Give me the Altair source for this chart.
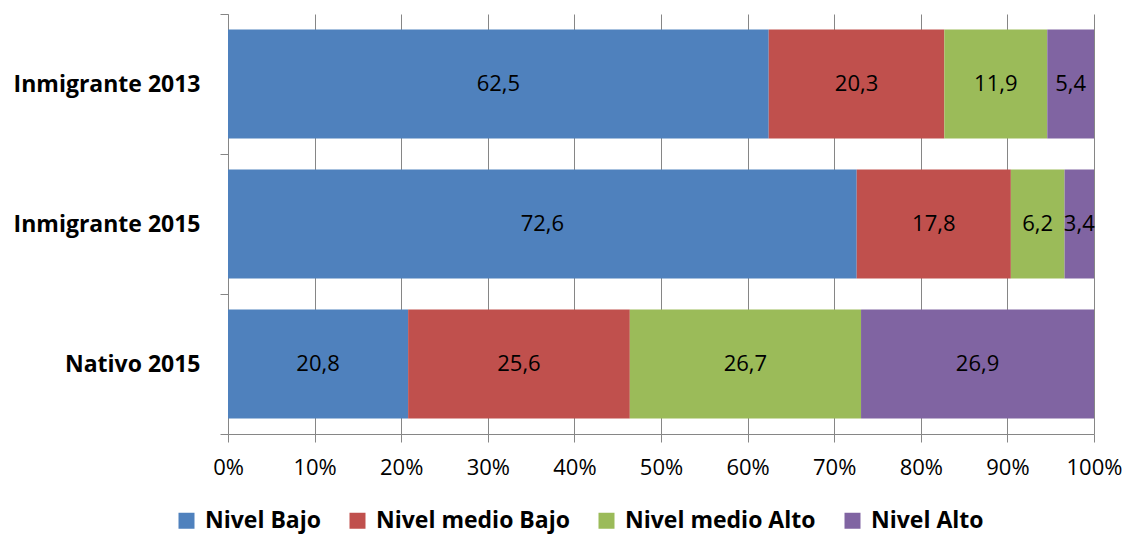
import altair as alt
import pandas as pd

# Distribution by level for each group (percent of each group)
grupos = ["Inmigrante 2013", "Inmigrante 2015", "Nativo 2015"]
niveles = ["Nivel Bajo", "Nivel medio Bajo", "Nivel medio Alto", "Nivel Alto"]
nivel_bajo = [62.5, 72.6, 20.8]
nivel_medio_bajo = [20.3, 17.8, 25.6]
nivel_medio_alto = [11.9, 6.2, 26.7]
nivel_alto = [5.4, 3.4, 26.9]
colores = ["#4F81BD", "#C0504D", "#9BBB59", "#8064A2"]
x_ticks = [i / 10 for i in range(11)]

series = [nivel_bajo, nivel_medio_bajo, nivel_medio_alto, nivel_alto]
rows = []
for j, (nivel, vals) in enumerate(zip(niveles, series)):
    for grupo, v in zip(grupos, vals):
        rows.append({"grupo": grupo, "nivel": nivel, "orden": j, "valor": v})
df = pd.DataFrame(rows)

FONT = "Open Sans"
AXIS_GRAY = "#868686"

base = (
    alt.Chart(df)
    .transform_stack(
        stack="valor",
        groupby=["grupo"],
        sort=[alt.SortField("orden", order="ascending")],
        as_=["x0", "x1"],
        offset="normalize",
    )
    .transform_calculate(
        mid="(datum.x0 + datum.x1) / 2",
        etiqueta="replace(format(datum.valor, '.1f'), '.', ',')",
    )
)

# Bands fill the whole axis so the ticks fall on the category boundaries;
# each bar takes 78% of its band.
y_enc = alt.Y(
    "grupo:N",
    sort=grupos,
    title=None,
    scale=alt.Scale(paddingInner=0, paddingOuter=0),
    axis=alt.Axis(
        tickBand="extent",
        labelFont=FONT,
        labelFontSize=23,
        labelFontWeight="bold",
        labelColor="#000000",
        labelPadding=20,
        labelLimit=0,
        tickSize=8,
        tickColor=AXIS_GRAY,
        domainColor=AXIS_GRAY,
        grid=False,
    ),
)

bars = base.mark_bar(height=alt.RelativeBandSize(band=0.78)).encode(
    x=alt.X(
        "x0:Q",
        title=None,
        scale=alt.Scale(domain=[0, 1], nice=False),
        axis=alt.Axis(
            values=x_ticks,
            format=".0%",
            labelFont=FONT,
            labelFontSize=22,
            labelColor="#000000",
            labelPadding=15,
            labelFlush=False,
            labelOverlap=False,
            tickSize=8,
            tickColor=AXIS_GRAY,
            domainColor=AXIS_GRAY,
            grid=True,
            gridColor=AXIS_GRAY,
            gridOpacity=1,
        ),
    ),
    x2="x1:Q",
    y=y_enc,
    color=alt.Color(
        "nivel:N",
        sort=niveles,
        scale=alt.Scale(domain=niveles, range=colores),
        legend=alt.Legend(
            title=None,
            orient="none",
            direction="horizontal",
            legendX=-53,
            legendY=495,
            symbolType="square",
            symbolSize=256,
            symbolStrokeWidth=0,
            symbolOpacity=1,
            labelFont=FONT,
            labelFontSize=23,
            labelFontWeight="bold",
            labelColor="#000000",
            labelLimit=0,
            labelOffset=7,
            columnPadding=25,
        ),
    ),
    order=alt.Order("orden:Q"),
)

labels = base.mark_text(
    font=FONT, fontSize=22, color="#000000", baseline="middle", align="center"
).encode(
    x=alt.X("mid:Q"),
    y=alt.Y("grupo:N", sort=grupos),
    text="etiqueta:N",
)

chart = (
    alt.layer(bars, labels)
    .properties(
        width=866,
        height=420,
        autosize=alt.AutoSizeParams(type="none"),
        padding={"left": 228, "top": 14, "right": 35, "bottom": 102},
        background="#ffffff",
    )
    .configure_view(stroke=None)
)

chart.save("out.html", embed_options={"renderer": "svg", "actions": False})
